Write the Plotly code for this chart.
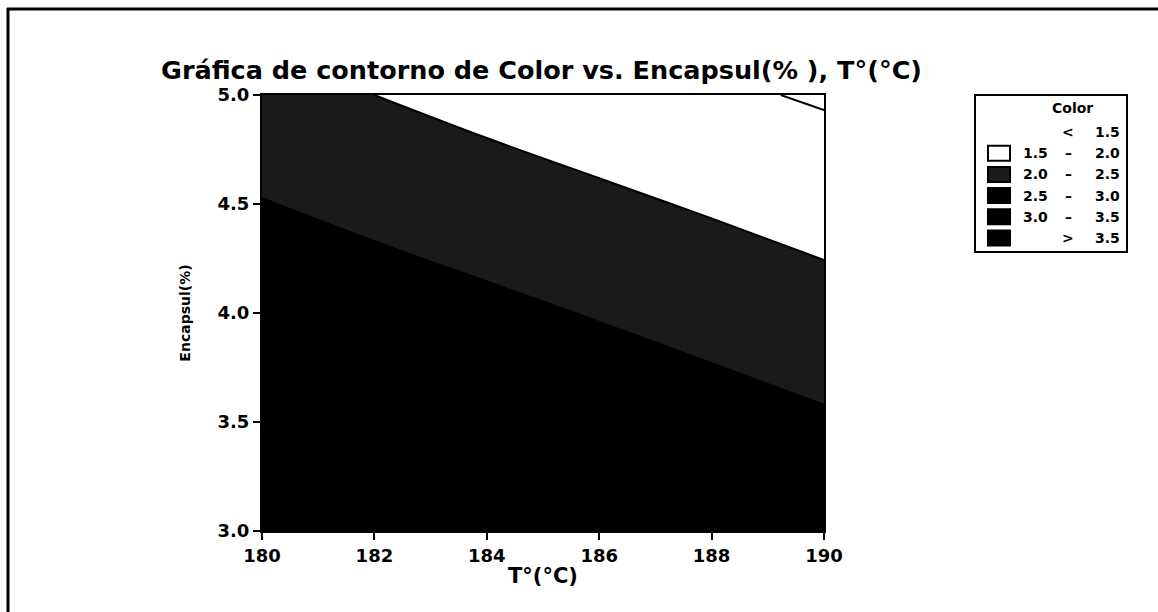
import plotly.graph_objects as go

# ---- data ----
temperature = [180, 182, 184, 186, 188, 190]          # T(°C)
encapsul = [3.0, 3.5, 4.0, 4.5, 5.0]                   # Encapsul(%)
color_z = [
    [3.65, 3.50, 3.36, 3.22, 3.08, 2.94],   # Encapsul 3.0
    [3.27, 3.13, 2.99, 2.84, 2.70, 2.56],   # 3.5
    [2.89, 2.75, 2.61, 2.47, 2.33, 2.18],   # 4.0
    [2.52, 2.37, 2.23, 2.09, 1.95, 1.81],   # 4.5
    [2.14, 2.00, 1.85, 1.71, 1.58, 1.45],   # 5.0
]
x_ticks = [180, 182, 184, 186, 188, 190]
y_ticks = [3.0, 3.5, 4.0, 4.5, 5.0]
legend_labels = [("", "<", "1.5"), ("1.5", "–", "2.0"), ("2.0", "–", "2.5"),
                 ("2.5", "–", "3.0"), ("3.0", "–", "3.5"), ("", ">", "3.5")]
legend_fills = [None, "white", "#1a1a1a", "black", "black", "black"]

W, H = 1158, 612
L, R, T, B = 262, 1158 - 824, 95, 612 - 531
FONT = "DejaVu Sans"

def px2x(px):
    return (px - L) / (W - L - R)

def py2y(py):
    return (H - B - py) / (H - T - B)

fig = go.Figure()
fig.add_trace(go.Contour(
    x=temperature, y=encapsul, z=color_z,
    autocontour=False,
    contours=dict(start=1.5, end=3.5, size=0.5, coloring="fill", showlines=True),
    line=dict(color="black", width=2),
    colorscale=[[0, "white"], [0.3, "white"], [0.3, "#1a1a1a"], [0.5, "#1a1a1a"],
                [0.5, "black"], [1, "black"]],
    showscale=False, hoverinfo="skip",
))

axis_common = dict(showline=True, linecolor="black", linewidth=2, mirror=True,
                   ticks="outside", ticklen=7, tickwidth=2, tickcolor="black",
                   showgrid=False, zeroline=False,
                   tickfont=dict(family=FONT, size=18, color="black", weight="bold"))

fig.update_xaxes(range=[180, 190], tickvals=x_ticks,
                 title=dict(text="T°(°C)", font=dict(family=FONT, size=21, color="black", weight="bold"),
                            standoff=4),
                 **axis_common)
fig.update_yaxes(range=[3.0, 5.0], tickvals=y_ticks, tickformat=".1f",
                 title=dict(text="Encapsul(%)", font=dict(family=FONT, size=14, color="black", weight="bold"),
                            standoff=24),
                 **axis_common)

shapes = []
annotations = []
# outer frame (top and left edges visible)
shapes.append(dict(type="line", xref="paper", yref="paper", x0=px2x(7), x1=px2x(1160),
                   y0=py2y(9), y1=py2y(9), line=dict(color="black", width=3)))
shapes.append(dict(type="line", xref="paper", yref="paper", x0=px2x(8), x1=px2x(8),
                   y0=py2y(8), y1=py2y(614), line=dict(color="black", width=3)))

# legend box
shapes.append(dict(type="rect", xref="paper", yref="paper", x0=px2x(975), x1=px2x(1127),
                   y0=py2y(95), y1=py2y(252), line=dict(color="black", width=2),
                   fillcolor="white"))
annotations.append(dict(text="Color", xref="paper", yref="paper", x=px2x(1072), y=py2y(108),
                        showarrow=False, xanchor="center", yanchor="middle",
                        font=dict(family=FONT, size=14, color="black", weight="bold")))
row0, step = 132, 21.2
for i, ((a, sep, b), fill) in enumerate(zip(legend_labels, legend_fills)):
    yc = row0 + i * step
    if fill is not None:
        shapes.append(dict(type="rect", xref="paper", yref="paper",
                           x0=px2x(988), x1=px2x(1010), y0=py2y(yc - 7.5), y1=py2y(yc + 7.5),
                           line=dict(color="black", width=2), fillcolor=fill))
    lf = dict(family=FONT, size=14, color="black", weight="bold")
    if a:
        annotations.append(dict(text=a, xref="paper", yref="paper", x=px2x(1050), y=py2y(yc),
                                showarrow=False, xanchor="right", yanchor="middle", font=lf))
    annotations.append(dict(text=sep, xref="paper", yref="paper", x=px2x(1068), y=py2y(yc),
                            showarrow=False, xanchor="center", yanchor="middle", font=lf))
    annotations.append(dict(text=b, xref="paper", yref="paper", x=px2x(1122), y=py2y(yc),
                            showarrow=False, xanchor="right", yanchor="middle", font=lf))

fig.update_layout(
    width=W, height=H,
    margin=dict(l=L, r=R, t=T, b=B, autoexpand=False),
    paper_bgcolor="white", plot_bgcolor="white",
    title=dict(text="Gráfica de contorno de Color vs. Encapsul(% ), T°(°C)",
               x=(160 + 923) / 2 / W, xanchor="center", y=1 - 70 / H, yanchor="middle",
               font=dict(family=FONT, size=25.5, color="black", weight="bold")),
    showlegend=False,
    shapes=shapes, annotations=annotations,
)

fig.write_html("out.html")
